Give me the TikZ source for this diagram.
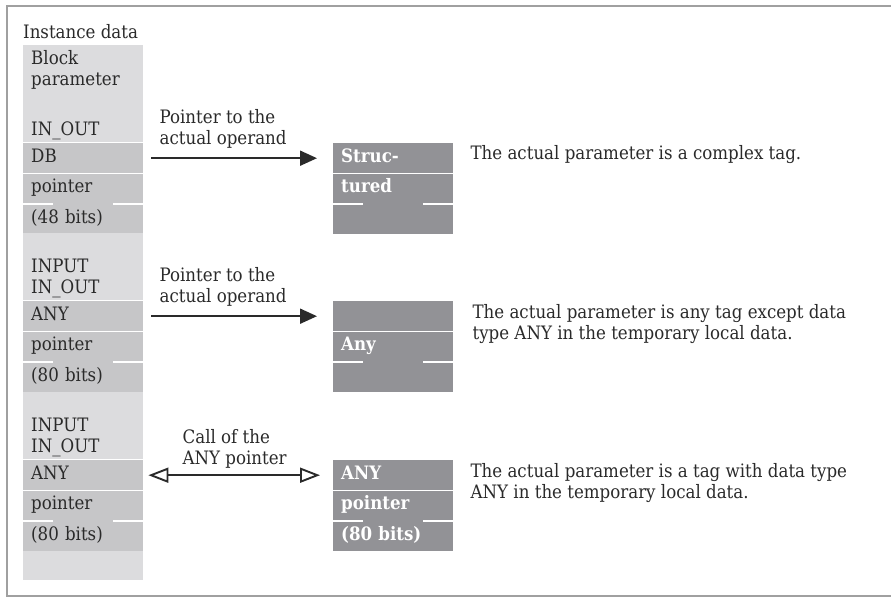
\documentclass[tikz,border=0pt]{standalone}
\usepackage{fontspec}
\setmainfont[FakeStretch=0.9]{DejaVu Serif}
\usetikzlibrary{positioning,arrows.meta}
\definecolor{hell}{HTML}{DCDCDE}
\definecolor{mittel}{HTML}{C6C6C8}
\definecolor{dunkel}{HTML}{929296}
\definecolor{rahmen}{HTML}{A0A0A0}
\definecolor{schrift}{HTML}{2A2A2A}
\newcommand\bodyfont{\fontsize{18.5}{21}\selectfont}
\tikzset{
  blk/.style  = {rectangle, fill=hell, minimum width=120pt, inner sep=0, anchor=north west},
  cell/.style = {rectangle, fill=mittel, minimum width=120pt, minimum height=30pt, inner xsep=8pt, inner ysep=0, text width=104pt, align=left, anchor=north west, text height=13pt, text depth=4.5pt, font=\bodyfont, text=schrift},
  box/.style  = {cell, fill=dunkel, text=white, font=\bodyfont\bfseries},
  sep/.style  = {draw=white, line width=1.5pt},
  et/.style   = {inner sep=0, align=left, font=\bodyfont, text=schrift},
  ptr/.style  = {-{Triangle[length=17pt,width=15pt]}, line width=1.9pt, draw=schrift},
  call/.style = {{Triangle[open,length=20pt,width=15pt]}-{Triangle[open,length=20pt,width=15pt]}, line width=1.9pt, draw=schrift},
  rand/.style = {draw=rahmen, line width=1.5pt}
}
\begin{document}
\begin{tikzpicture}[x=1pt, y=-1pt]
  \useasboundingbox (0,0) rectangle (891,604);
  \draw[rand] (900,6) -- (7,6) -- (7,596) -- (900,596);

  % instance data column
  \node[blk, minimum height=97pt] (b1) at (23,45) {};
  \node[cell] (d1a) at (23,143) {DB};
  \node[cell, below=0pt of d1a] (d1b) {pointer};
  \node[cell, below=0pt of d1b] (d1c) {(48 bits)};
  \node[blk, minimum height=67pt] (b2) at (23,233) {};
  \node[cell] (d2a) at (23,301) {ANY};
  \node[cell, below=0pt of d2a] (d2b) {pointer};
  \node[cell, below=0pt of d2b] (d2c) {(80 bits)};
  \node[blk, minimum height=67pt] (b3) at (23,392) {};
  \node[cell] (d3a) at (23,460) {ANY};
  \node[cell, below=0pt of d3a] (d3b) {pointer};
  \node[cell, below=0pt of d3b] (d3c) {(80 bits)};
  \node[blk, minimum height=29pt] (b4) at (23,551) {};

  \node[et, anchor=south west] (hdr) at ([yshift=6pt]b1.north west) {Instance data};
  \node[et, anchor=north west] (t1) at ([shift={(8pt,-5pt)}]b1.north west) {Block\\parameter};
  \node[et, anchor=base west] (t2) at ([shift={(8pt,7pt)}]b1.south west) {IN\_OUT};
  \node[et, anchor=south west] (t3) at ([shift={(8pt,2pt)}]b2.south west) {INPUT\\IN\_OUT};
  \node[et, anchor=south west] (t4) at ([shift={(8pt,2pt)}]b3.south west) {INPUT\\IN\_OUT};

  % actual operands
  \node[box] (r1a) at (333,143) {Struc-};
  \node[box, below=0pt of r1a] (r1b) {tured};
  \node[box, below=0pt of r1b] (r1c) {};
  \node[box] (r2a) at (333,301) {};
  \node[box, below=0pt of r2a] (r2b) {Any};
  \node[box, below=0pt of r2b] (r2c) {};
  \node[box] (r3a) at (333,460) {ANY};
  \node[box, below=0pt of r3a] (r3b) {pointer};
  \node[box, below=0pt of r3b] (r3c) {(80 bits)};

  \foreach \r in {d1a,d1b,d2a,d2b,d3a,d3b,r1a,r1b,r2a,r2b,r3a,r3b}
    \draw[sep] (\r.south west) -- ++(30pt,0) (\r.south east) -- ++(-30pt,0);

  % pointers
  \draw[ptr] ([xshift=8pt]d1a.east) coordinate (s1) -- ([xshift=-16pt]r1a.west);
  \draw[ptr] ([xshift=8pt]d2a.east) coordinate (s2) -- ([xshift=-16pt]r2a.west);
  \draw[call] ([xshift=5pt]d3a.east) coordinate (s3) -- ([xshift=-13pt]r3a.west);
  \node[et, anchor=south west] (p1) at ([shift={(8pt,10pt)}]s1) {Pointer to the\\actual operand};
  \node[et, anchor=south west] (p2) at ([shift={(8pt,10pt)}]s2) {Pointer to the\\actual operand};
  \node[et, anchor=south west] (p3) at ([shift={(34pt,7pt)}]s3) {Call of the\\ANY pointer};

  % explanations
  \node[et, anchor=north west] (e1) at ([shift={(17pt,-2pt)}]r1a.north east) {The actual parameter is a complex tag.};
  \node[et, anchor=north west] (e2) at ([shift={(19pt,-3pt)}]r2a.north east) {The actual parameter is any tag except data\\type ANY in the temporary local data.};
  \node[et, anchor=north west] (e3) at ([shift={(17pt,-3pt)}]r3a.north east) {The actual parameter is a tag with data type\\ANY in the temporary local data.};
\end{tikzpicture}
\end{document}
